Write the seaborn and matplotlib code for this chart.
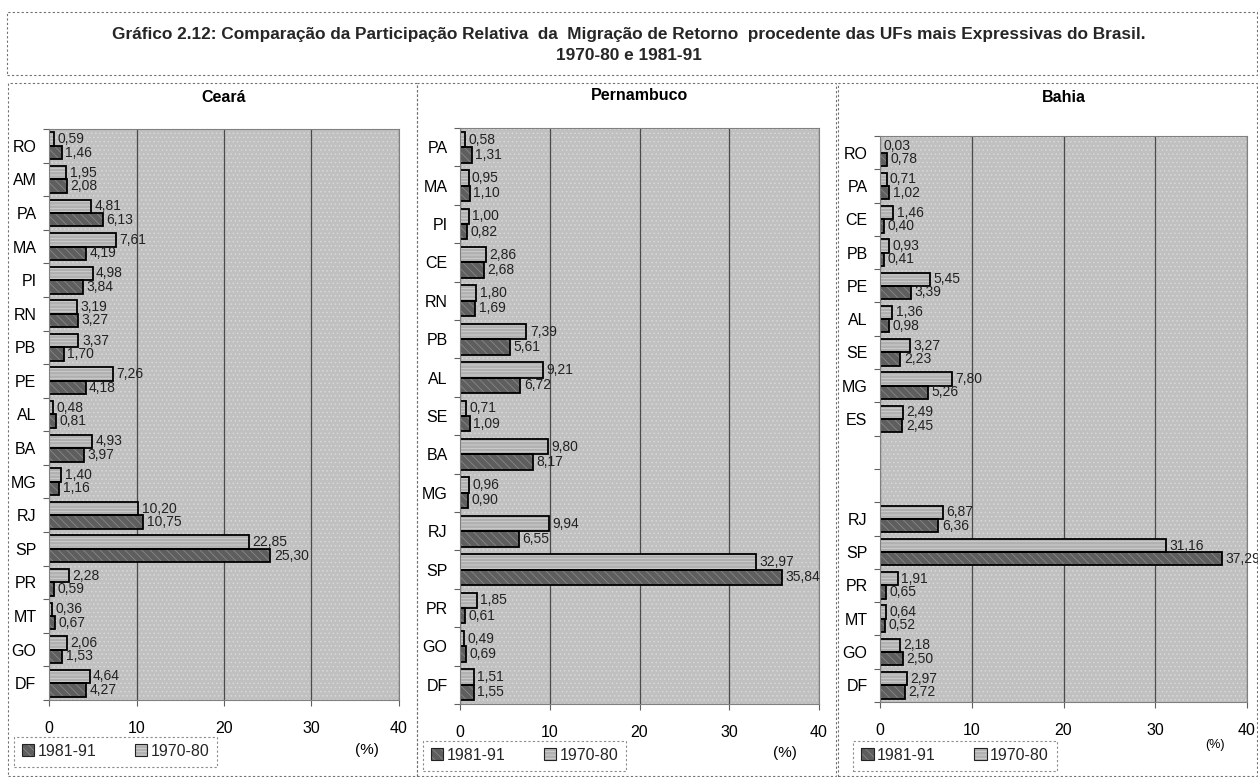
import numpy as np
import pandas as pd
import matplotlib
matplotlib.use("Agg")
import matplotlib.pyplot as plt
from matplotlib.patches import Rectangle, Patch
from matplotlib.legend_handler import HandlerBase
import seaborn as sns

# ---- data: relative share (%) of return migration by state of origin ----
periods = ["1970-80", "1981-91"]

ceara_ufs = ["RO", "AM", "PA", "MA", "PI", "RN", "PB", "PE", "AL", "BA", "MG",
             "RJ", "SP", "PR", "MT", "GO", "DF"]
ceara_7080 = [0.59, 1.95, 4.81, 7.61, 4.98, 3.19, 3.37, 7.26, 0.48, 4.93, 1.40,
              10.20, 22.85, 2.28, 0.36, 2.06, 4.64]
ceara_8191 = [1.46, 2.08, 6.13, 4.19, 3.84, 3.27, 1.70, 4.18, 0.81, 3.97, 1.16,
              10.75, 25.30, 0.59, 0.67, 1.53, 4.27]

pern_ufs = ["PA", "MA", "PI", "CE", "RN", "PB", "AL", "SE", "BA", "MG", "RJ",
            "SP", "PR", "GO", "DF"]
pern_7080 = [0.58, 0.95, 1.00, 2.86, 1.80, 7.39, 9.21, 0.71, 9.80, 0.96, 9.94,
             32.97, 1.85, 0.49, 1.51]
pern_8191 = [1.31, 1.10, 0.82, 2.68, 1.69, 5.61, 6.72, 1.09, 8.17, 0.90, 6.55,
             35.84, 0.61, 0.69, 1.55]

bahia_ufs = ["RO", "PA", "CE", "PB", "PE", "AL", "SE", "MG", "ES", " ", "  ",
             "RJ", "SP", "PR", "MT", "GO", "DF"]
bahia_7080 = [0.03, 0.71, 1.46, 0.93, 5.45, 1.36, 3.27, 7.80, 2.49, None, None,
              6.87, 31.16, 1.91, 0.64, 2.18, 2.97]
bahia_8191 = [0.78, 1.02, 0.40, 0.41, 3.39, 0.98, 2.23, 5.26, 2.45, None, None,
              6.36, 37.29, 0.65, 0.52, 2.50, 2.72]

x_ticks = [0, 10, 20, 30, 40]

title_text = ("Gráfico 2.12: Comparação da Participação Relativa  da  Migração de Retorno  "
              "procedente das UFs mais Expressivas do Brasil.\n1970-80 e 1981-91")

# ---- styling ----
sns.set_theme(style="white")
plt.rcParams["font.family"] = ["Liberation Sans", "DejaVu Sans"]
plt.rcParams["hatch.linewidth"] = 0.6

W, H = 1258, 777
fig = plt.figure(figsize=(W / 100, H / 100), dpi=100)
fig.patch.set_facecolor("white")

colors = {"1970-80": "#b0b0b0", "1981-91": "#5e5e5e"}
hatches = {"1970-80": "-----", "1981-91": "\\\\\\\\"}
hatch_cols = {"1970-80": "#d2d2d2", "1981-91": "#878787"}


def px_box(x0, y0, x1, y1):
    """Convert a pixel box (top-left origin) into figure fractions."""
    return [x0 / W, 1 - y1 / H, (x1 - x0) / W, (y1 - y0) / H]


def frame(x0, y0, x1, y1):
    fig.add_artist(Rectangle((x0 / W, 1 - y1 / H), (x1 - x0) / W, (y1 - y0) / H,
                             transform=fig.transFigure, fill=False,
                             edgecolor="#707070", linewidth=0.8, linestyle=(0, (2, 2))))


def style_bars(ax, bars, period):
    """Textured fill (hatch in a lighter tone) plus a black outline on top."""
    for b in bars:
        b.set_hatch(hatches[period])
        b.set_edgecolor(hatch_cols[period])
        b.set_linewidth(0)
        ax.add_patch(Rectangle(b.get_xy(), b.get_width(), b.get_height(), fill=False,
                               edgecolor="black", linewidth=1.3, zorder=b.get_zorder() + 0.1))


class SwatchHandler(HandlerBase):
    def create_artists(self, legend, orig, xd, yd, w, h, fontsize, trans):
        per = orig.get_label()
        base = Rectangle((xd, yd), w, h, facecolor=colors[per], hatch=hatches[per],
                         edgecolor=hatch_cols[per], linewidth=0, transform=trans)
        edge = Rectangle((xd, yd), w, h, fill=False, edgecolor="#222222",
                         linewidth=0.8, transform=trans)
        return [base, edge]


def panel(rect, name, title_y, ufs, v7080, v8191, legend_box, pct_xy, pct_size=11):
    ax = fig.add_axes(px_box(*rect))
    df = pd.DataFrame({
        "UF": ufs * 2,
        "periodo": ["1970-80"] * len(ufs) + ["1981-91"] * len(ufs),
        "valor": list(v7080) + list(v8191),
    }).dropna()
    df["valor"] = df["valor"].astype(float)

    # stippled plot background
    ax.set_facecolor("#c0c0c0")
    ax.add_patch(Rectangle((0, 0), 1, 1, transform=ax.transAxes, facecolor="#c0c0c0",
                           hatch="....", edgecolor="#d8d8d8", linewidth=0, zorder=0))

    sns.barplot(data=df, x="valor", y="UF", hue="periodo", order=ufs,
                hue_order=periods, palette=colors, orient="h", width=0.8,
                legend=False, ax=ax, zorder=2)

    for cont, per in zip(ax.containers, periods):
        style_bars(ax, cont, per)
        ax.bar_label(cont, fmt=lambda v: f"{v:.2f}".replace(".", ","), padding=2.5,
                     fontsize=10, color="#222222")

    ax.set_xlim(0, 40)
    ax.set_xticks(x_ticks)
    ax.set_ylim(len(ufs) - 0.5, -0.5)
    ax.set_xlabel("")
    ax.set_ylabel("")
    ax.set_axisbelow(True)
    ax.xaxis.grid(True, color="#4a4a4a", linewidth=0.9)
    ax.yaxis.grid(False)
    for s in ax.spines.values():
        s.set_color("#808080")
        s.set_linewidth(0.8)
    ax.tick_params(axis="x", length=4, width=0.8, color="#606060", direction="out",
                   bottom=True, labelsize=11.5, pad=11, labelcolor="black")
    ax.tick_params(axis="y", which="major", length=0, pad=9, labelsize=11.5,
                   labelcolor="black")
    ax.set_yticks(np.arange(len(ufs) + 1) - 0.5, minor=True)
    ax.tick_params(axis="y", which="minor", length=4, width=0.8, color="#606060",
                   direction="out", left=True)

    cx = (rect[0] + rect[2]) / 2
    fig.text(cx / W, 1 - title_y / H, name, ha="center", va="center",
             fontsize=11.5, fontweight="bold", color="black")

    handles = [Patch(label=p) for p in ["1981-91", "1970-80"]]
    lx0, ly0, lx1, ly1 = legend_box
    leg = ax.legend(handles=handles, ncol=2, loc="center",
                    bbox_to_anchor=((lx0 + lx1) / 2 / W, 1 - (ly0 + ly1) / 2 / H),
                    bbox_transform=fig.transFigure, fontsize=11.5, frameon=True,
                    fancybox=False, handlelength=0.8, handleheight=0.8,
                    handletextpad=0.2, columnspacing=2.4, borderpad=0.5,
                    handler_map={Patch: SwatchHandler()})
    leg.get_frame().set_edgecolor("#707070")
    leg.get_frame().set_linestyle((0, (2, 2)))
    leg.get_frame().set_linewidth(0.8)

    fig.text(pct_xy[0] / W, 1 - pct_xy[1] / H, "(%)", ha="center", va="center",
             fontsize=pct_size, color="black")
    return ax


# title block
frame(7, 12, 1257, 75)
fig.text(0.5, 1 - 45 / H, title_text, ha="center", va="center", fontsize=12.4,
         fontweight="bold", linespacing=1.55,
         family=["Liberation Sans Narrow", "Liberation Sans", "DejaVu Sans"])

# panel frames
frame(8, 83, 417, 776)
frame(417, 83, 836, 776)
frame(838, 83, 1257, 776)

panel((49, 129, 399, 700), "Ceará", 98, ceara_ufs, ceara_7080, ceara_8191,
      (10, 736, 221, 768), (367, 750))
panel((460, 128, 819, 704), "Pernambuco", 95, pern_ufs, pern_7080, pern_8191,
      (422, 740, 627, 772), (785, 753))
panel((880, 136, 1247, 702), "Bahia", 98, bahia_ufs, bahia_7080, bahia_8191,
      (853, 740, 1057, 772), (1215, 745), pct_size=9)

fig.savefig("out.png", dpi=100)
